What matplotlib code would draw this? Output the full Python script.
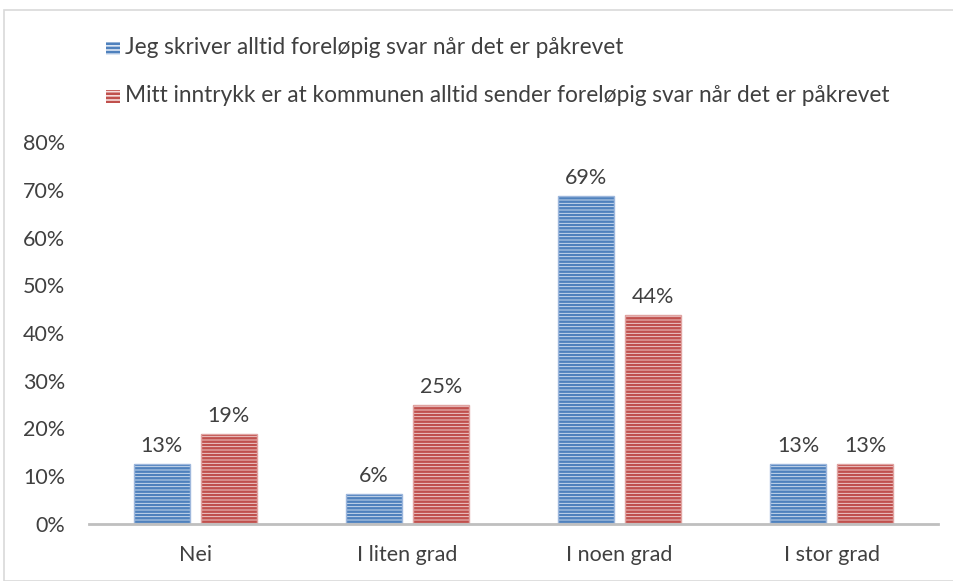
import numpy as np
import matplotlib
matplotlib.use('Agg')
import matplotlib.pyplot as plt
from matplotlib.patches import Rectangle

plt.rcParams['font.family'] = ['Lato', 'DejaVu Sans']
plt.rcParams['hatch.linewidth'] = 1.8

# data
categories = ['Nei', 'I liten grad', 'I noen grad', 'I stor grad']
series_names = ['Jeg skriver alltid foreløpig svar når det er påkrevet',
                'Mitt inntrykk er at kommunen alltid sender foreløpig svar når det er påkrevet']
blue_vals = [0.125, 0.0625, 0.6875, 0.125]
red_vals = [0.1875, 0.25, 0.4375, 0.125]
yticks = [0, 0.1, 0.2, 0.3, 0.4, 0.5, 0.6, 0.7, 0.8]

colors = [('#4F81BD', '#dce6f3', '#9db7dc'), ('#C0504D', '#f5dcdc', '#e0a3a1')]
txt = '#404040'
fs = 15.5

fig = plt.figure(figsize=(9.54, 5.81), dpi=100)
ax = fig.add_axes([89/954, 1 - 524/581, (938-89)/954, (524-142)/581])

# light frame around chart
fig.patches.append(Rectangle((4/954, 0), 1, 1 - 10/581, transform=fig.transFigure,
                             fill=False, edgecolor='#d9d9d9', linewidth=1.2))

x = np.arange(len(categories))
w = 0.264
off = 0.158
for vals, sign, (main, light, edge) in [(blue_vals, -1, colors[0]), (red_vals, 1, colors[1])]:
    ax.bar(x + sign * off, vals, w, color=light, edgecolor=main, hatch='-----', linewidth=0)
    ax.bar(x + sign * off, vals, w, fill=False, edgecolor=edge, linewidth=1)
    for xi, v in zip(x, vals):
        ax.text(xi + sign * off, v + 0.017, '%d%%' % int(v * 100 + 0.5), ha='center', va='bottom',
                fontsize=fs, color=txt)

ax.set_xlim(-0.5, len(categories) - 0.5)
ax.set_ylim(0, 0.8)
ax.set_yticks(yticks)
ax.set_yticklabels(['%d%%' % round(t * 100) for t in yticks], fontsize=fs, color=txt)
ax.set_xticks(x)
ax.set_xticklabels(categories, fontsize=fs, color=txt)
ax.tick_params(length=0)
ax.tick_params(axis='y', pad=17)
ax.tick_params(axis='x', pad=15)
for s in ['top', 'right', 'left']:
    ax.spines[s].set_visible(False)
ax.spines['bottom'].set_color('#bfbfbf')
ax.spines['bottom'].set_linewidth(2)

# legend drawn manually at the top
for i, (name, (main, light, edge)) in enumerate(zip(series_names, colors)):
    yl = 1 - (48 + 48 * i) / 581
    fig.patches.append(Rectangle((106/954, yl - 6.5/581), 14/954, 13/581, transform=fig.transFigure,
                                 facecolor=light, edgecolor=main, hatch='----', linewidth=0))
    fig.text(125/954, yl, name, fontsize=16.3, color=txt, va='center', ha='left')

fig.savefig('out.png', dpi=100)
